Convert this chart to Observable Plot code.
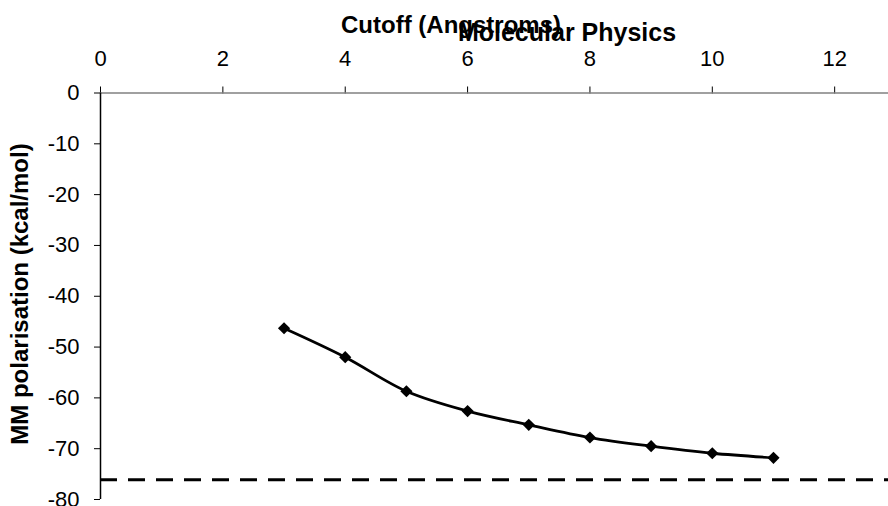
<!DOCTYPE html>
<html>
<head>
<meta charset="utf-8">
<script src="https://cdn.jsdelivr.net/npm/d3@7"></script>
<script src="https://cdn.jsdelivr.net/npm/@observablehq/plot@0.6"></script>
<style>
  html, body { margin: 0; padding: 0; background: #fff; }
  #chart { position: relative; width: 888px; height: 506px; overflow: hidden; }
</style>
</head>
<body>
<div id="chart"></div>
<script>
// Data
const cutoff = [3, 4, 5, 6, 7, 8, 9, 10, 11];
const polarisation = [-46.3, -52.0, -58.7, -62.6, -65.3, -67.8, -69.5, -70.9, -71.8];
const referenceValue = -76.1;
const xTicks = [0, 2, 4, 6, 8, 10, 12];
const yTicks = [0, -10, -20, -30, -40, -50, -60, -70, -80];
const titleText = "Molecular Physics";
const xLabel = "Cutoff (Angstroms)";
const yLabel = "MM polarisation (kcal/mol)";

const data = cutoff.map((c, i) => ({cutoff: c, value: polarisation[i]}));

const plot = Plot.plot({
  width: 888,
  height: 506,
  marginLeft: 100,
  marginRight: 0,
  marginTop: 92.5,
  marginBottom: 7,
  style: {fontFamily: "'Liberation Sans', Arial, sans-serif", fontSize: "22px", color: "#000", background: "#fff"},
  x: {domain: [0, 12.88], label: null},
  y: {domain: [-80, 0], label: null},
  marks: [
    Plot.axisX({anchor: "top", ticks: xTicks, tickSize: 7, tickPadding: 20.5, tickFormat: d => String(d), label: null}),
    Plot.axisY({anchor: "left", ticks: yTicks, tickSize: 6, tickPadding: 15, tickFormat: d => String(d), label: null}),
    Plot.ruleY([0], {stroke: "#808080", strokeWidth: 1.5}),
    Plot.ruleX([0], {stroke: "#000", strokeWidth: 1.5}),
    Plot.ruleY([referenceValue], {stroke: "#000", strokeWidth: 3, strokeDasharray: "17,11"}),
    Plot.line(data, {x: "cutoff", y: "value", curve: "catmull-rom", stroke: "#000", strokeWidth: 2.8}),
    Plot.dot(data, {x: "cutoff", y: "value", symbol: "diamond2", r: 5.5, fill: "#000", stroke: "none"})
  ]
});

document.getElementById("chart").appendChild(plot);

const svg = d3.select(plot);
const font = "'Liberation Sans', Arial, sans-serif";
svg.append("text")
  .attr("x", 451).attr("y", 33)
  .attr("text-anchor", "middle")
  .attr("font-family", font).attr("font-weight", "bold").attr("font-size", 24)
  .attr("fill", "#000")
  .text(xLabel);
svg.append("text")
  .attr("x", 567).attr("y", 41)
  .attr("text-anchor", "middle")
  .attr("font-family", font).attr("font-weight", "bold").attr("font-size", 25)
  .attr("fill", "#000")
  .text(titleText);
svg.append("text")
  .attr("transform", "translate(28,294) rotate(-90)")
  .attr("text-anchor", "middle")
  .attr("font-family", font).attr("font-weight", "bold").attr("font-size", 24)
  .attr("fill", "#000")
  .text(yLabel);
</script>
</body>
</html>
